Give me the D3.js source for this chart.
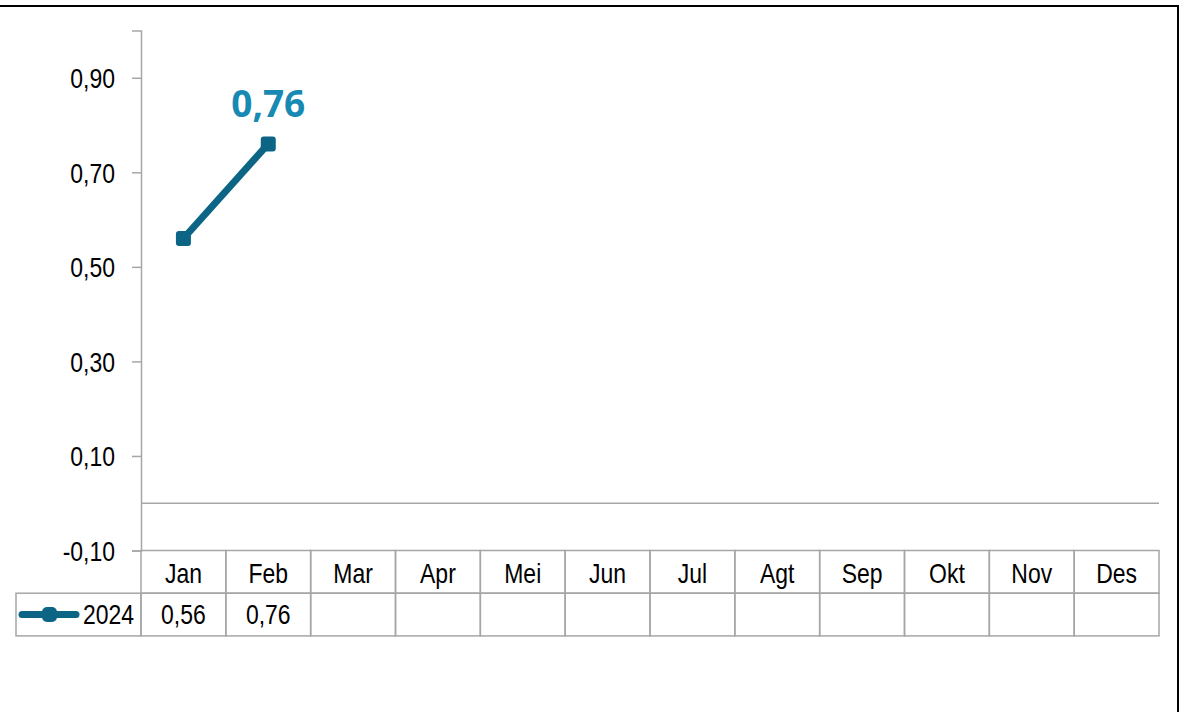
<!DOCTYPE html>
<html>
<head>
<meta charset="utf-8">
<script src="https://cdn.jsdelivr.net/npm/d3@7"></script>
<style>
  body { margin: 0; background: #fff; }
  svg { display: block; }
  .narrow { font-family: "Liberation Sans", Arial, sans-serif; }
</style>
</head>
<body>
<div class="chart"></div>
<script>
// data
const months = ["Jan", "Feb", "Mar", "Apr", "Mei", "Jun", "Jul", "Agt", "Sep", "Okt", "Nov", "Des"];
const values2024 = [0.56, 0.76, null, null, null, null, null, null, null, null, null, null];
const yTicks = [-0.10, 0.10, 0.30, 0.50, 0.70, 0.90];
const seriesName = "2024";

const W = 1185, H = 712;
const lineColor = "#0d6585";
const labelColor = "#1789b3";
const gridColor = "#a6a6a6";
const sx = 0.82;    // squeeze Liberation Sans to look like a narrow face
const fs = 28;

const svg = d3.select(".chart").append("svg")
  .attr("width", W)
  .attr("height", H);

// outer frame
svg.append("rect")
  .attr("x", -10).attr("y", 6)
  .attr("width", 1188).attr("height", 740)
  .attr("fill", "none")
  .attr("stroke", "#000")
  .attr("stroke-width", 2);

const x = d3.scaleBand().domain(months).range([141, 1159]).padding(0);
const y = d3.scaleLinear().domain([-0.10, 1.0]).range([550.5, 30.5]);

const fmt = d => d3.format(".2f")(d).replace(".", ",").replace("−", "-");

// narrow text helper
function narrowText(g, px, py, txt, anchor) {
  return g.append("text")
    .attr("class", "narrow")
    .attr("transform", `translate(${px},${py}) scale(${sx},1)`)
    .attr("text-anchor", anchor || "middle")
    .attr("font-size", fs)
    .attr("fill", "#000")
    .text(txt);
}

// y axis
const yAxis = svg.append("g")
  .attr("transform", "translate(141,0)")
  .call(d3.axisLeft(y).tickValues(yTicks).tickSize(9).tickFormat(""));
yAxis.select(".domain").attr("stroke", gridColor).attr("stroke-width", 1.5);
yAxis.selectAll(".tick line").attr("stroke", gridColor).attr("stroke-width", 1.5);
yAxis.selectAll(".tick").each(function(d) {
  narrowText(d3.select(this), -26, 10, fmt(d), "end");
});

// zero line
svg.append("line")
  .attr("x1", 141).attr("x2", 1159)
  .attr("y1", y(0)).attr("y2", y(0))
  .attr("stroke", gridColor).attr("stroke-width", 1.5);

// data table
const rowTop = y(-0.10);
const rowH = 42.7;
const table = svg.append("g");
table.selectAll(".cell1")
  .data(months)
  .enter().append("rect")
  .attr("x", d => x(d)).attr("y", rowTop)
  .attr("width", x.bandwidth()).attr("height", rowH)
  .attr("fill", "none").attr("stroke", gridColor).attr("stroke-width", 1.5);
table.selectAll(".cell2")
  .data(months)
  .enter().append("rect")
  .attr("x", d => x(d)).attr("y", rowTop + rowH)
  .attr("width", x.bandwidth()).attr("height", rowH)
  .attr("fill", "none").attr("stroke", gridColor).attr("stroke-width", 1.5);
table.append("rect")
  .attr("x", 16).attr("y", rowTop + rowH)
  .attr("width", 125).attr("height", rowH)
  .attr("fill", "none").attr("stroke", gridColor).attr("stroke-width", 1.5);

months.forEach(m => {
  narrowText(table, x(m) + x.bandwidth() / 2, rowTop + 32, m);
});
months.forEach((m, i) => {
  if (values2024[i] != null)
    narrowText(table, x(m) + x.bandwidth() / 2, rowTop + rowH + 31, fmt(values2024[i]));
});

// legend key
const ly = rowTop + rowH * 1.5;
table.append("line")
  .attr("x1", 22).attr("x2", 76)
  .attr("y1", ly).attr("y2", ly)
  .attr("stroke", lineColor).attr("stroke-width", 7).attr("stroke-linecap", "round");
table.append("rect")
  .attr("x", 42).attr("y", ly - 7.5)
  .attr("width", 15).attr("height", 15).attr("rx", 5)
  .attr("fill", lineColor);
narrowText(table, 134, rowTop + rowH + 31, seriesName, "end");

// series line
const pts = months.map((m, i) => ({m, v: values2024[i]})).filter(d => d.v != null);
const line = d3.line()
  .x(d => x(d.m) + x.bandwidth() / 2)
  .y(d => y(d.v));
svg.append("path")
  .datum(pts)
  .attr("d", line)
  .attr("fill", "none")
  .attr("stroke", lineColor)
  .attr("stroke-width", 7);

svg.selectAll(".pt")
  .data(pts)
  .enter().append("rect")
  .attr("x", d => x(d.m) + x.bandwidth() / 2 - 7.5)
  .attr("y", d => y(d.v) - 7.5)
  .attr("width", 15).attr("height", 15).attr("rx", 3)
  .attr("fill", lineColor);

// label of last point
const last = pts[pts.length - 1];
svg.append("text")
  .attr("x", x(last.m) + x.bandwidth() / 2)
  .attr("y", y(last.v) - 27)
  .attr("text-anchor", "middle")
  .attr("font-family", "'Open Sans', 'Noto Sans', sans-serif")
  .attr("font-weight", "bold")
  .attr("font-size", 37)
  .attr("fill", labelColor)
  .text(fmt(last.v));
</script>
</body>
</html>
